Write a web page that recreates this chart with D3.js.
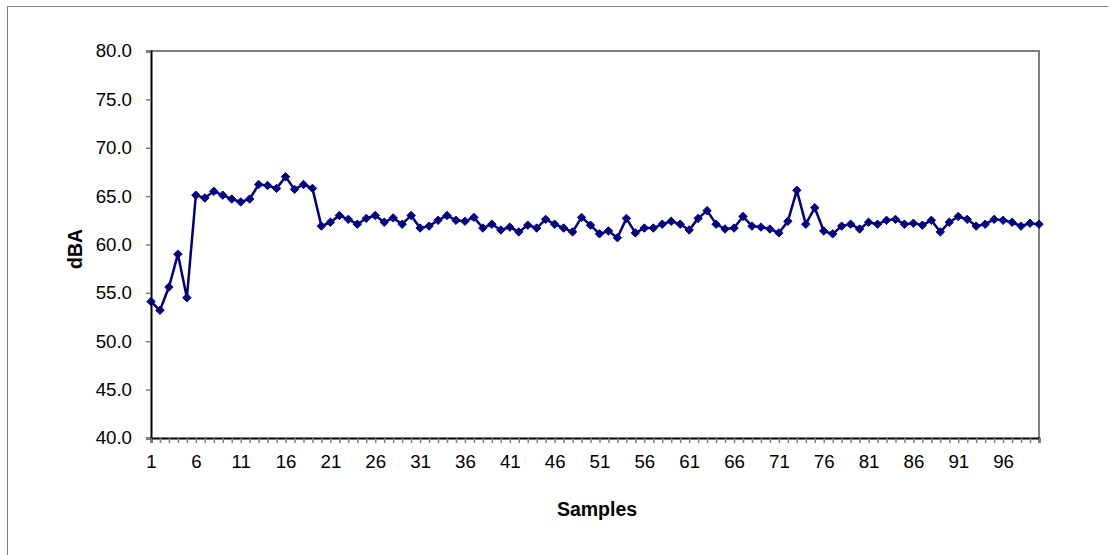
<!DOCTYPE html>
<html>
<head>
<meta charset="utf-8">
<script src="https://cdn.jsdelivr.net/npm/d3@7"></script>
<style>
html,body{margin:0;padding:0;background:#fff;}
svg{display:block;font-family:"Liberation Sans",Arial,sans-serif;}
</style>
</head>
<body>
<svg id="chart" width="1108" height="555"></svg>
<script>
const samples = d3.range(1, 101);
const dBA = [
  54.1, 53.2, 55.6, 59.0, 54.5, 65.1, 64.8, 65.5, 65.1, 64.7,
  64.4, 64.7, 66.2, 66.1, 65.8, 67.0, 65.7, 66.2, 65.8, 61.9,
  62.3, 63.0, 62.6, 62.1, 62.7, 63.0, 62.3, 62.75, 62.1, 63.0,
  61.7, 61.9, 62.5, 63.0, 62.5, 62.4, 62.8, 61.7, 62.1, 61.5,
  61.8, 61.3, 62.0, 61.7, 62.6, 62.1, 61.7, 61.3, 62.8, 62.0,
  61.1, 61.4, 60.7, 62.7, 61.2, 61.7, 61.7, 62.1, 62.4, 62.1,
  61.5, 62.7, 63.5, 62.1, 61.6, 61.7, 62.9, 61.9, 61.8, 61.6,
  61.2, 62.4, 65.6, 62.1, 63.8, 61.4, 61.1, 61.9, 62.1, 61.6,
  62.3, 62.1, 62.5, 62.6, 62.1, 62.2, 62.0, 62.5, 61.3, 62.3,
  62.9, 62.6, 61.9, 62.1, 62.6, 62.5, 62.3, 61.9, 62.2, 62.1
];
const yTicks = [40, 45, 50, 55, 60, 65, 70, 75, 80];
const xTickLabels = samples.filter(s => (s - 1) % 5 === 0);
const xTitle = "Samples";
const yTitle = "dBA";

const svg = d3.select("#chart");
const L = 151, R = 1039, T = 51, B = 438;

// outer chart frame
svg.append("rect").attr("x", 7.5).attr("y", 6.5).attr("width", 1120).attr("height", 600)
  .attr("fill", "none").attr("stroke", "#808080").attr("stroke-width", 1);

const x = d3.scalePoint().domain(samples).range([L, R]);
const y = d3.scaleLinear().domain([40, 80]).range([B, T]);

// plot border (top/right gray)
svg.append("path").attr("d", `M${L},${T}H${R}V${B}`)
  .attr("fill", "none").attr("stroke", "#808080").attr("stroke-width", 2);

// y axis
const yAxis = svg.append("g").attr("transform", `translate(${L},0)`)
  .call(d3.axisLeft(y).tickValues(yTicks).tickFormat(d3.format(".1f")).tickSize(5).tickPadding(14));
yAxis.select(".domain").attr("stroke", "#000").attr("stroke-width", 2);
yAxis.selectAll(".tick line").attr("stroke", "#808080").attr("stroke-width", 1.5);
yAxis.selectAll(".tick text").attr("font-size", "18.7px").attr("fill", "#000")
  .attr("font-family", "Liberation Sans, Arial, sans-serif");

// x axis
const xAxis = svg.append("g").attr("transform", `translate(0,${B})`)
  .call(d3.axisBottom(x).tickValues(samples).tickFormat(d => xTickLabels.includes(d) ? d : "").tickSize(5).tickPadding(12));
xAxis.select(".domain").attr("stroke", "#000").attr("stroke-width", 2);
xAxis.selectAll(".tick line").attr("stroke", "#808080").attr("stroke-width", 1.5);
xAxis.selectAll(".tick text").attr("font-size", "18.7px").attr("fill", "#000")
  .attr("font-family", "Liberation Sans, Arial, sans-serif");

// axis titles
svg.append("text").attr("x", (L + R) / 2 + 2).attr("y", 516).attr("text-anchor", "middle")
  .attr("font-size", "19.5px").attr("font-weight", "bold").text(xTitle);
svg.append("text").attr("transform", `translate(82,249) rotate(-90)`).attr("text-anchor", "middle")
  .attr("font-size", "19.5px").attr("font-weight", "bold").text(yTitle);

// line
const line = d3.line().x((d, i) => x(samples[i])).y(d => y(d));
svg.append("path").datum(dBA).attr("d", line)
  .attr("fill", "none").attr("stroke", "#000080").attr("stroke-width", 2.5).attr("stroke-linejoin", "round");

// diamond markers
const r = 4.2;
svg.append("g").selectAll("path").data(dBA).join("path")
  .attr("d", (d, i) => {
    const cx = x(samples[i]), cy = y(d);
    return `M${cx},${cy - r}L${cx + r},${cy}L${cx},${cy + r}L${cx - r},${cy}Z`;
  })
  .attr("fill", "#000080").attr("stroke", "#000080").attr("stroke-width", 1);
</script>
</body>
</html>
